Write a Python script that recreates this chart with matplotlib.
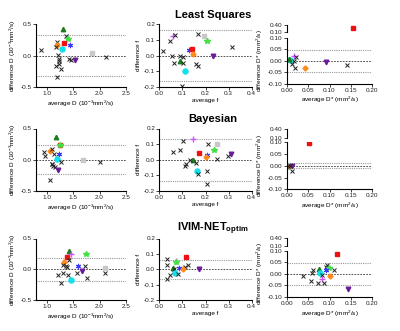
import matplotlib
matplotlib.use("Agg")
import matplotlib.pyplot as plt

plt.rcParams["font.family"] = ["Liberation Sans", "DejaVu Sans"]
plt.rcParams["mathtext.fontset"] = "custom"
plt.rcParams["mathtext.rm"] = "Liberation Sans"
plt.rcParams["mathtext.it"] = "Liberation Sans:italic"
plt.rcParams["mathtext.bf"] = "Liberation Sans:bold"
plt.rcParams["axes.unicode_minus"] = False

# subject codes: x black cross, g green, r red, l lime, o orange, c cyan,
# b blue, p purple, v violet, k grey
ls_D_avg = [1.315, 1.365, 1.41, 1.33, 1.20, 1.20, 1.44, 1.18, 1.30, 0.89, 1.22,
            1.23, 1.23, 1.23, 1.18, 1.27, 1.19, 1.43, 1.47, 1.54, 1.85, 2.13]
ls_D_diff = [0.416, 0.31, 0.26, 0.205, 0.22, 0.17, 0.17, 0.14, 0.10, 0.08, 0.01,
             -0.06, -0.095, -0.13, -0.17, -0.22, -0.34, -0.05, -0.07, -0.07, 0.04, -0.02]
ls_D_kind = "g x l r x o b x c x x x x x x x x x x p k x".split()
ls_D_loa = [0.0, 0.33, -0.33]

ls_f_avg = [0.017, 0.046, 0.061, 0.068, 0.056, 0.065, 0.09, 0.104, 0.09, 0.104, 0.111,
            0.097, 0.13, 0.143, 0.147, 0.157, 0.169, 0.169, 0.193, 0.208, 0.231, 0.313]
ls_f_diff = [0.03, 0.09, 0.125, 0.13, -0.002, -0.045, 0.0, -0.01, -0.034, -0.049, -0.096,
             -0.194, 0.032, 0.04, 0.011, -0.055, -0.066, 0.136, 0.126, 0.089, -0.002, 0.053]
ls_f_kind = "x x v x x x x x g x c x b r o x x x k l p x".split()
ls_f_loa = [0.0, 0.16, -0.16]

ls_Ds_avg = [0.156, 0.018, 0.021, 0.008, 0.005, 0.012, 0.019, 0.016, 0.043, 0.091, 0.141]
ls_Ds_diff = [0.27, 0.021, 0.016, 0.004, 0.007, -0.013, -0.031, -0.003, -0.031, -0.007, -0.02]
ls_Ds_kind = "r v x c g x x x o p x".split()
ls_Ds_loa = [0.0, 0.046, -0.047]

bay_D_avg = [1.18, 1.26, 1.26, 0.95, 0.97, 1.06, 1.10, 1.14, 1.24, 1.20, 1.11, 1.13,
             1.16, 1.10, 1.28, 1.22, 1.06, 2.01, 1.69]
bay_D_diff = [0.367, 0.234, 0.234, 0.128, 0.064, 0.144, 0.17, 0.09, 0.096, 0.02, -0.06,
              -0.10, -0.11, -0.075, -0.03, -0.165, -0.325, -0.03, -0.005]
bay_D_kind = "g r l x x o x x b c x x x x x p x x k".split()
bay_D_loa = [0.0, 0.23, -0.23]

bay_f_avg = [0.147, 0.104, 0.212, 0.251, 0.237, 0.058, 0.09, 0.173, 0.205, 0.202, 0.309,
             0.299, 0.251, 0.147, 0.133, 0.116, 0.111, 0.157, 0.162, 0.169, 0.208, 0.208]
bay_f_diff = [0.13, 0.12, 0.10, 0.10, 0.061, 0.05, 0.065, 0.046, 0.028, 0.017, 0.035,
              0.024, 0.007, -0.004, 0.0, -0.026, -0.037, -0.022, -0.07, -0.091, -0.074, -0.157]
bay_f_kind = "v x x k l x x r b o p x x g x x x x c x x x".split()
bay_f_loa = [0.0, 0.133, -0.135]

bay_Ds_avg = [0.053, 0.002, 0.006, 0.013, 0.012, 0.004, 0.008]
bay_Ds_diff = [0.096, 0.0, 0.0, -0.001, -0.024, -0.002, 0.001]
bay_Ds_kind = "r c o p x x x".split()
bay_Ds_loa = [0.0, 0.013, -0.011]

net_D_avg = [1.43, 1.38, 1.47, 1.74, 1.33, 1.43, 1.31, 1.36, 1.38, 1.60, 1.72, 1.67,
             1.58, 1.22, 1.31, 1.41, 1.28, 1.47, 1.77, 2.10, 2.10]
net_D_diff = [0.30, 0.20, 0.24, 0.24, 0.114, 0.158, 0.065, 0.05, 0.04, 0.05, 0.05, -0.033,
              -0.06, -0.087, -0.06, -0.087, -0.22, -0.17, -0.14, -0.06, 0.02]
net_D_kind = "g r v l o x x x x b x p x x x x x c x x k".split()
net_D_loa = [0.0, 0.185, -0.185]

net_f_avg = [0.116, 0.032, 0.072, 0.072, 0.035, 0.058, 0.064, 0.087, 0.111, 0.126,
             0.101, 0.173, 0.068, 0.082, 0.046, 0.035]
net_f_diff = [0.082, 0.064, 0.052, 0.048, 0.025, 0.009, 0.002, 0.009, 0.014, 0.025,
              0.002, 0.002, -0.025, -0.032, -0.039, -0.061]
net_f_kind = "r x v l x g x b x x o p c x x x".split()
net_f_loa = [0.0, 0.061, -0.061]

net_Ds_avg = [0.118, 0.095, 0.091, 0.099, 0.075, 0.092, 0.062, 0.058, 0.111, 0.078,
              0.082, 0.102, 0.083, 0.039, 0.056, 0.072, 0.087, 0.144]
net_Ds_diff = [0.087, 0.04, 0.029, 0.026, 0.021, 0.016, 0.016, 0.004, 0.016, 0.003,
               -0.007, -0.009, -0.021, -0.010, -0.031, -0.039, -0.041, -0.067]
net_Ds_kind = "r x x l g b x x x c x o v x x x x p".split()
net_Ds_loa = [0.0, 0.046, -0.047]

titles = ["Least Squares", "Bayesian", r"IVIM-NET$_{\mathbf{optim}}$"]

STYLE = {
    "x": dict(marker="x", color="#222222", ms=2.9, mew=0.7),
    "g": dict(marker="^", color="#1e7d1e", ms=3.2),
    "r": dict(marker="s", color="#ee1111", ms=3.5),
    "l": dict(marker="*", color="#44e044", ms=3.8),
    "o": dict(marker="D", color="#ff8a1a", ms=2.6),
    "c": dict(marker="o", color="#11e0ee", ms=3.6),
    "b": dict(marker=(6, 2, 0), color="#3a3aff", ms=3.8, mew=0.8),
    "p": dict(marker="v", color="#6a1b9a", ms=3.3),
    "v": dict(marker="+", color="#cc55ff", ms=3.8, mew=1.0),
    "k": dict(marker="s", color="#c8c8c8", ms=2.6),
}

W, H = 400, 331
FS = 4.6


def rect(left, right, top, bottom):
    return [left / W, 1 - bottom / H, (right - left) / W, (bottom - top) / H]


def style_ax(ax):
    for s in ("top", "right"):
        ax.spines[s].set_visible(False)
    for s in ("left", "bottom"):
        ax.spines[s].set_linewidth(0.8)
    ax.tick_params(length=2, width=0.6, labelsize=FS, pad=1, colors="#222222")


def scatter(ax, xs, ys, kinds, ymin=-1.0, ymax=1.0):
    for x, y, k in zip(xs, ys, kinds):
        if ymin <= y <= ymax:
            ax.plot([x], [y], ls="none", **STYLE[k])


def loa_lines(ax, loa, xlim):
    ax.plot(xlim, [loa[0]] * 2, color="#333333", lw=0.6, dashes=(2, 1.5))
    for v in loa[1:]:
        ax.plot(xlim, [v] * 2, color="#999999", lw=0.8, dashes=(1, 1))


fig = plt.figure(figsize=(W / 100, H / 100), dpi=100)

rows = [(24, 87, 25, 32.3, 37.7, 83.7),
        (128.5, 191, 129.3, 137.7, 142.3, 189.3),
        (238.5, 300, 238.3, 246, 250.7, 297)]

D_data = [(ls_D_avg, ls_D_diff, ls_D_kind, ls_D_loa),
          (bay_D_avg, bay_D_diff, bay_D_kind, bay_D_loa),
          (net_D_avg, net_D_diff, net_D_kind, net_D_loa)]
f_data = [(ls_f_avg, ls_f_diff, ls_f_kind, ls_f_loa),
          (bay_f_avg, bay_f_diff, bay_f_kind, bay_f_loa),
          (net_f_avg, net_f_diff, net_f_kind, net_f_loa)]
Ds_data = [(ls_Ds_avg, ls_Ds_diff, ls_Ds_kind, ls_Ds_loa),
           (bay_Ds_avg, bay_Ds_diff, bay_Ds_kind, bay_Ds_loa),
           (net_Ds_avg, net_Ds_diff, net_Ds_kind, net_Ds_loa)]

for i, (top, bot, ut, ub, lt, lb) in enumerate(rows):
    # column 1: D
    ax = fig.add_axes(rect(36, 126, top, bot))
    style_ax(ax)
    xs, ys, ks, loa = D_data[i]
    xlim = (0.8, 2.5)
    loa_lines(ax, loa, xlim)
    scatter(ax, xs, ys, ks)
    ax.set_xlim(*xlim)
    ax.set_ylim(-0.5, 0.5)
    ax.set_xticks([1.0, 1.5, 2.0, 2.5])
    ax.set_xticklabels(["1.0", "1.5", "2.0", "2.5"])
    ax.set_yticks([-0.5, 0.0, 0.5])
    ax.set_yticklabels(["-0.5", "0.0", "0.5"])
    ax.set_xlabel(r"average D (10$^{-3}$mm$^{2}$/s)", fontsize=FS, labelpad=1.5)
    ax.set_ylabel(r"difference D (10$^{-3}$mm$^{2}$/s)", fontsize=FS, labelpad=2)

    # column 2: f
    ax = fig.add_axes(rect(159.3, 251.7, top, bot))
    style_ax(ax)
    xs, ys, ks, loa = f_data[i]
    xlim = (0.0, 0.4)
    loa_lines(ax, loa, xlim)
    scatter(ax, xs, ys, ks)
    ax.set_xlim(*xlim)
    ax.set_ylim(-0.2, 0.2)
    ax.set_xticks([0.0, 0.1, 0.2, 0.3, 0.4])
    ax.set_xticklabels(["0.0", "0.1", "0.2", "0.3", "0.4"])
    ax.set_yticks([-0.2, -0.1, 0.0, 0.1, 0.2])
    ax.set_yticklabels(["-0.2", "-0.1", "0.0", "0.1", "0.2"])
    ax.set_xlabel("average f", fontsize=FS, labelpad=1.5)
    ax.set_ylabel("difference f", fontsize=FS, labelpad=2)

    # column 3: D* with broken y axis
    xs, ys, ks, loa = Ds_data[i]
    xlim = (0.0, 0.2)
    lo = fig.add_axes(rect(286.7, 372.3, lt, lb))
    style_ax(lo)
    loa_lines(lo, loa, xlim)
    scatter(lo, xs, ys, ks, -0.10, 0.10)
    lo.set_xlim(*xlim)
    lo.set_ylim(-0.10, 0.10)
    lo.set_xticks([0.0, 0.05, 0.10, 0.15, 0.20])
    lo.set_xticklabels(["0.00", "0.05", "0.10", "0.15", "0.20"])
    lo.set_yticks([-0.10, -0.05, 0.0, 0.05, 0.10])
    lo.set_yticklabels(["-0.10", "-0.05", "0.00", "0.05", "0.10"])
    lo.set_xlabel(r"average D* (mm$^{2}$/s)", fontsize=FS, labelpad=1.5)
    lo.set_ylabel(r"difference D* (mm$^{2}$/s)", fontsize=FS, labelpad=2)

    up = fig.add_axes(rect(286.7, 372.3, ut, ub))
    style_ax(up)
    up.spines["bottom"].set_visible(False)
    up.patch.set_visible(False)
    scatter(up, xs, ys, ks, 0.10001, 0.40)
    up.set_xlim(*xlim)
    up.set_ylim(0.10, 0.40)
    up.set_xticks([])
    up.set_yticks([0.10, 0.40])
    up.set_yticklabels(["0.10", "0.40"])

    fig.text(213 / W, 1 - (top - 9.5) / H, titles[i], fontsize=8, fontweight="bold",
             ha="center", va="center")

fig.savefig("out.png", dpi=100)
